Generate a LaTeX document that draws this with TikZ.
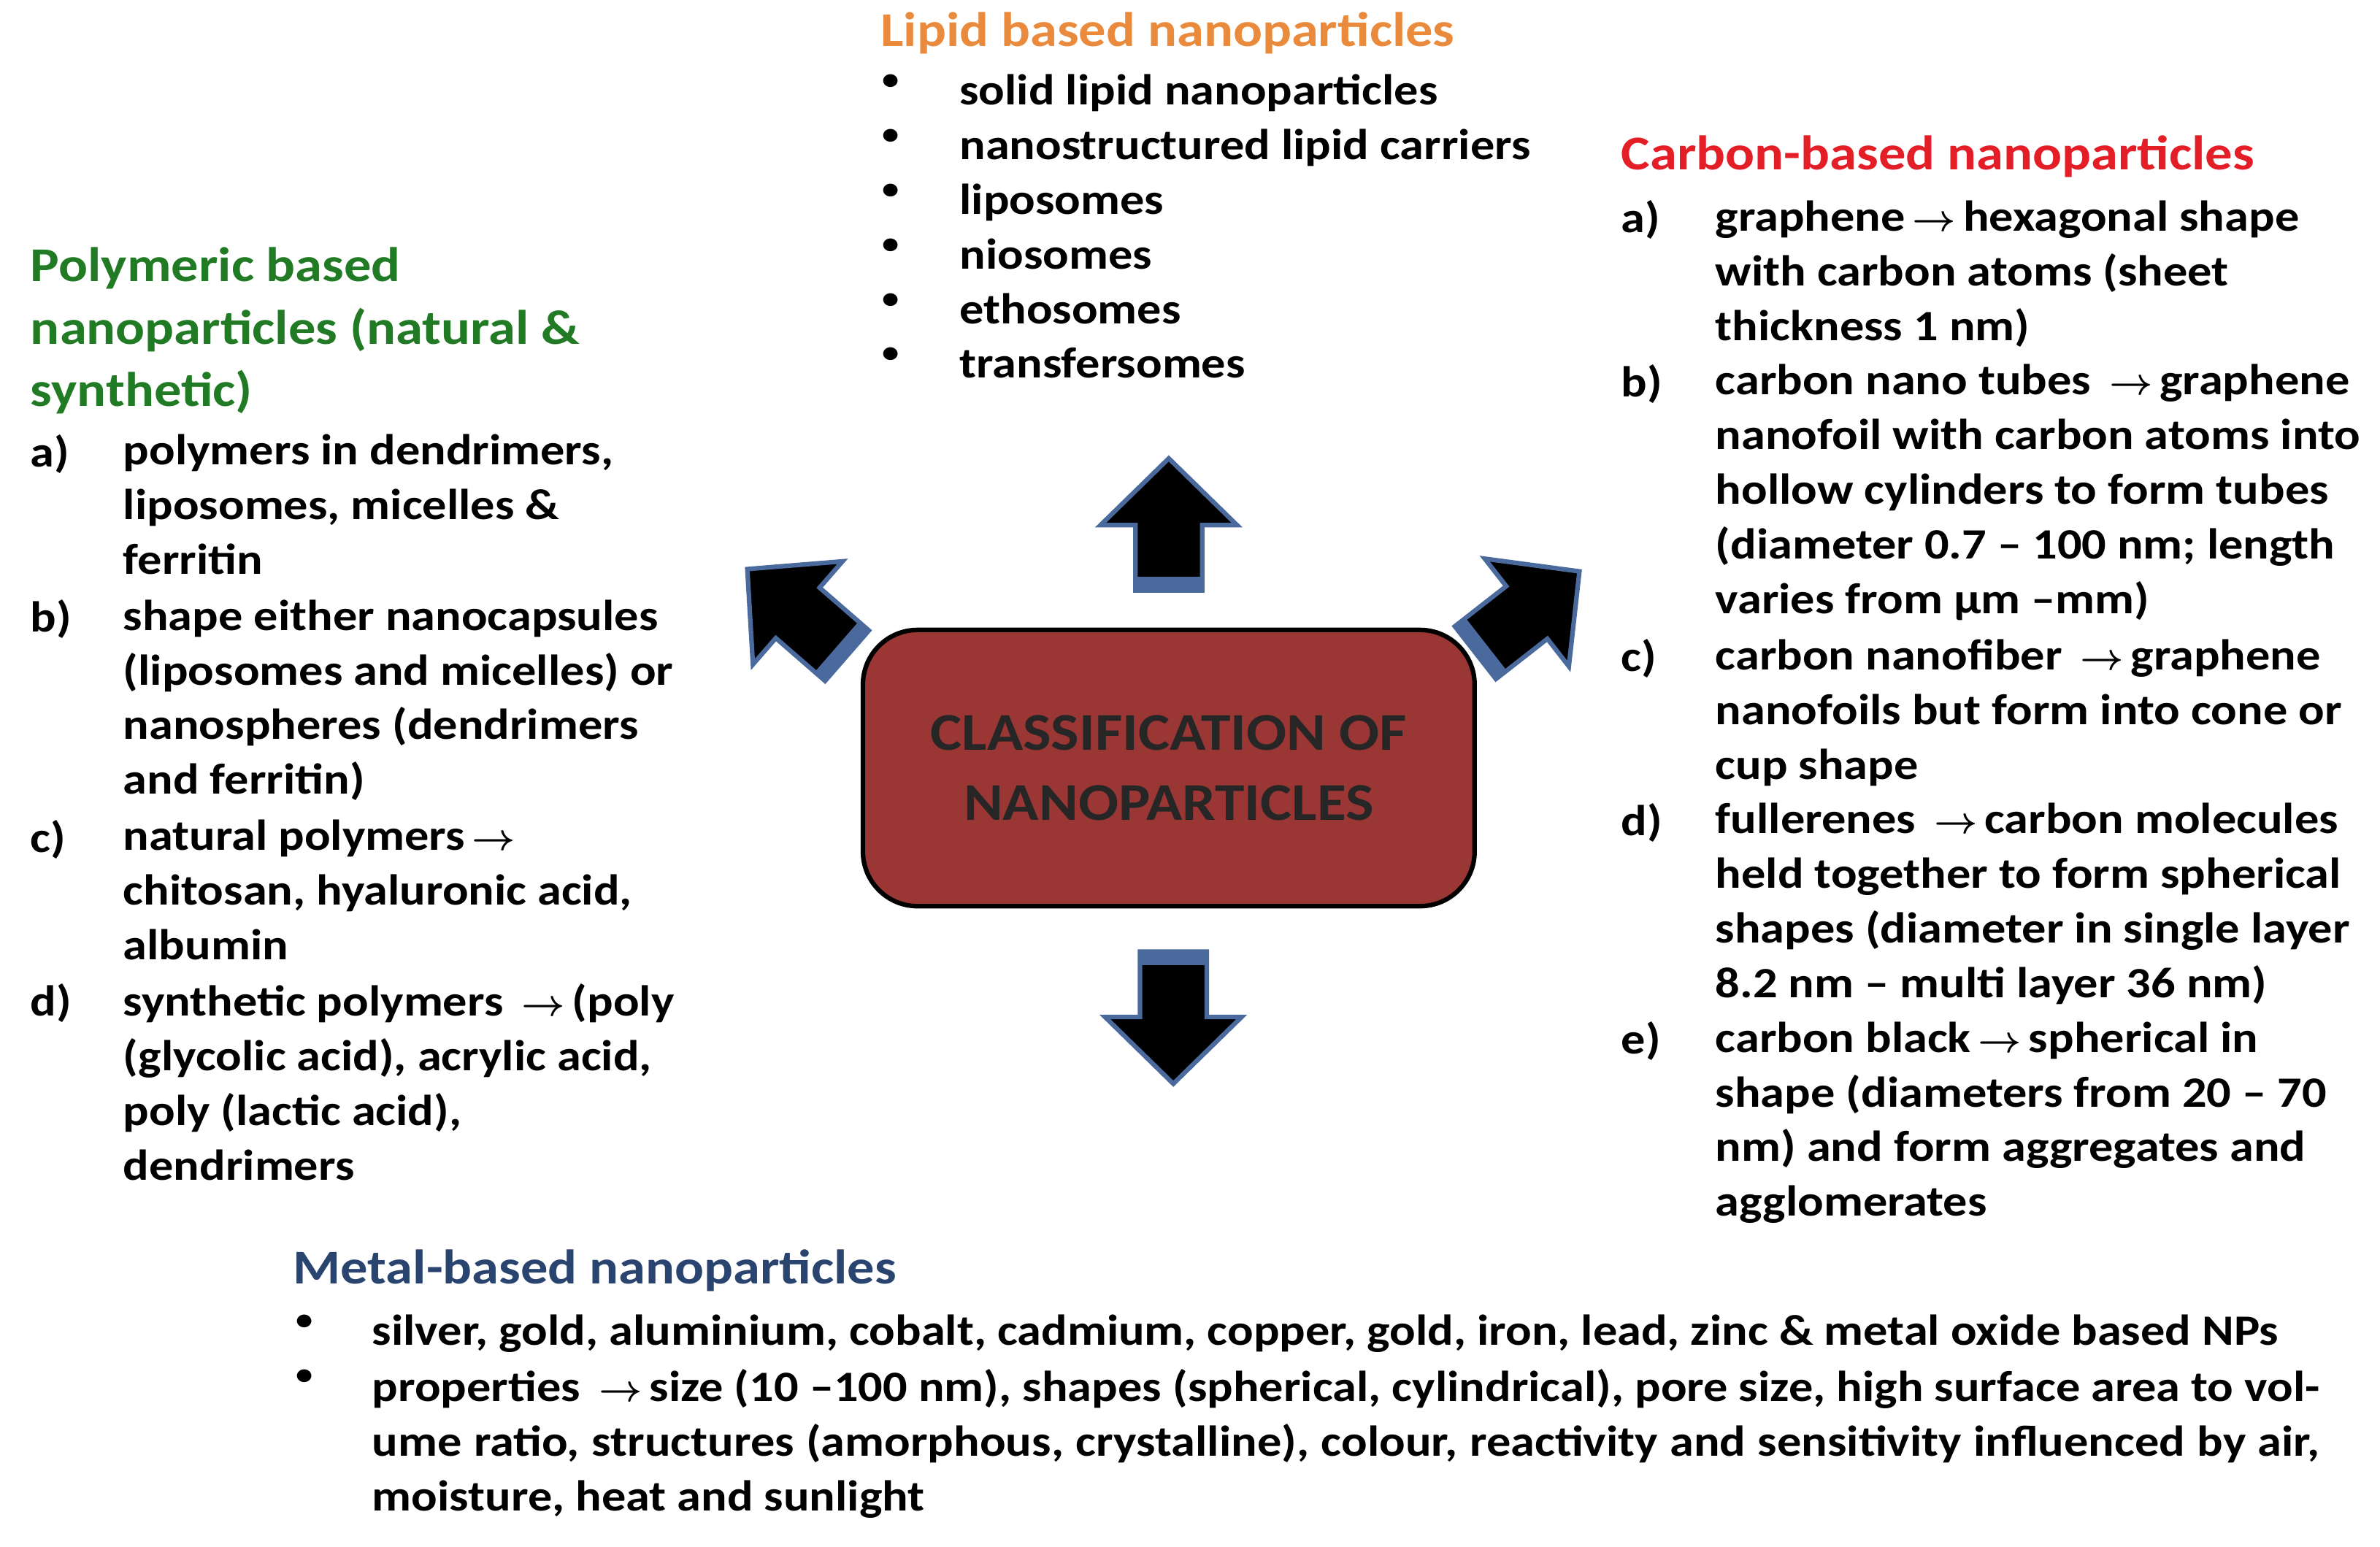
\documentclass[tikz,border=0pt]{standalone}
\usepackage{amsmath,amssymb,bm}
\usepackage{fontspec}
\setmainfont[FakeStretch=1.12]{Carlito}
\definecolor{lipid}{HTML}{E98A3C}
\definecolor{poly}{HTML}{217A24}
\definecolor{carb}{HTML}{E41E26}
\definecolor{metal}{HTML}{2A4470}
\definecolor{boxfill}{HTML}{9A3634}
\definecolor{arrowedge}{HTML}{4A6A9E}
\newcommand{\ra}{\,$\bm{\rightarrow}$\,}
\newcommand{\bul}{{\fontsize{20}{20}\selectfont\textbullet}}
\newcommand{\bigarr}[3]{%
  \begin{scope}[shift={(#1,#2)},rotate=#3]
    \fill[black,draw=arrowedge,line width=3pt,line join=miter]
      (0,-22) -- (43,-22) -- (43,-45) -- (87,0) -- (43,45) -- (43,22) -- (0,22) -- cycle;
    \fill[arrowedge] (0,-22) rectangle (9,22);
  \end{scope}}
\begin{document}
\begin{tikzpicture}[x=1pt,y=-1pt,
  txt/.style={anchor=north west,inner sep=0pt,font=\fontsize{28.5}{36}\selectfont\bfseries,align=left},
  head/.style={anchor=north west,inner sep=0pt,font=\fontsize{32}{41}\selectfont\bfseries,align=left}]
\useasboundingbox (0,0) rectangle (1568,1019);
% centre
\node[draw=black,line width=3pt,fill=boxfill,rounded corners=36pt,minimum width=403pt,minimum height=182pt,
  font=\fontsize{35}{46}\selectfont\bfseries,align=center,text=black!85] (c) at (770,506) {CLASSIFICATION OF\\NANOPARTICLES};
\bigarr{770}{389}{90}
\bigarr{773}{627}{-90}
\bigarr{558}{432}{139}
\bigarr{972}{430}{38}
% lipid
\node[head,text=lipid] (lh) at (580,8) {Lipid based nanoparticles};
\foreach \t [count=\i] in {solid lipid nanoparticles,nanostructured lipid carriers,liposomes,niosomes,ethosomes,transfersomes}{
  \node[txt] (lb\i) at (581,{65+36*(\i-1)-16}) {\bul};
  \node[txt] (l\i) at (632,{65+36*(\i-1)-16}) {\t};
}
% polymer
\node[head,text=poly] (ph) at (20,163) {Polymeric based\\nanoparticles (natural \&\\synthetic)};
\node[txt] (pa) at (20,286) {a)};
\node[txt] (pat) at (81,286) {polymers in dendrimers,\\liposomes, micelles \&\\ferritin};
\node[txt] (pb) at (20,395) {b)};
\node[txt] (pbt) at (81,395) {shape either nanocapsules\\(liposomes and micelles) or\\nanospheres (dendrimers\\and ferritin)};
\node[txt] (pc) at (20,540) {c)};
\node[txt] (pct) at (81,540) {natural polymers\ra\\chitosan, hyaluronic acid,\\albumin};
\node[txt] (pd) at (20,648) {d)};
\node[txt] (pdt) at (81,648) {synthetic polymers \ra (poly\\(glycolic acid), acrylic acid,\\poly (lactic acid),\\dendrimers};
% carbon
\node[head,text=carb] (ch) at (1068,89) {Carbon-based nanoparticles};
\node[txt] (ca) at (1068,132) {a)};
\node[txt] (cat) at (1130,132) {graphene\ra hexagonal shape\\with carbon atoms (sheet\\thickness 1 nm)};
\node[txt] (cb) at (1068,240) {b)};
\node[txt] (cbt) at (1130,240) {carbon nano tubes \ra graphene\\nanofoil with carbon atoms into\\hollow cylinders to form tubes\\(diameter 0.7 – 100 nm; length\\varies from µm –mm)};
\node[txt] (cc) at (1068,421) {c)};
\node[txt] (cct) at (1130,421) {carbon nanofiber \ra graphene\\nanofoils but form into cone or\\cup shape};
\node[txt] (cd) at (1068,529) {d)};
\node[txt] (cdt) at (1130,529) {fullerenes \ra carbon molecules\\held together to form spherical\\shapes (diameter in single layer\\8.2 nm – multi layer 36 nm)};
\node[txt] (ce) at (1068,673) {e)};
\node[txt] (cet) at (1130,673) {carbon black\ra spherical in\\shape (diameters from 20 – 70\\nm) and form aggregates and\\agglomerates};
% metal
\node[head,text=metal] (mh) at (193,823) {Metal-based nanoparticles};
\node[txt] (mb1) at (195,866) {\bul};
\node[txt] (m1) at (245,866) {silver, gold, aluminium, cobalt, cadmium, copper, gold, iron, lead, zinc \& metal oxide based NPs};
\node[txt] (mb2) at (195,902) {\bul};
\node[txt,text width=1283pt,align=justify] (m2) at (245,902) {\hyphenpenalty=10000 properties \ra size (10 –100 nm), shapes (spherical, cylindrical), pore size, high surface area to volume ratio, structures (amorphous, crystalline), colour, reactivity and sensitivity influenced by air, moisture, heat and sunlight};
\end{tikzpicture}
\end{document}
